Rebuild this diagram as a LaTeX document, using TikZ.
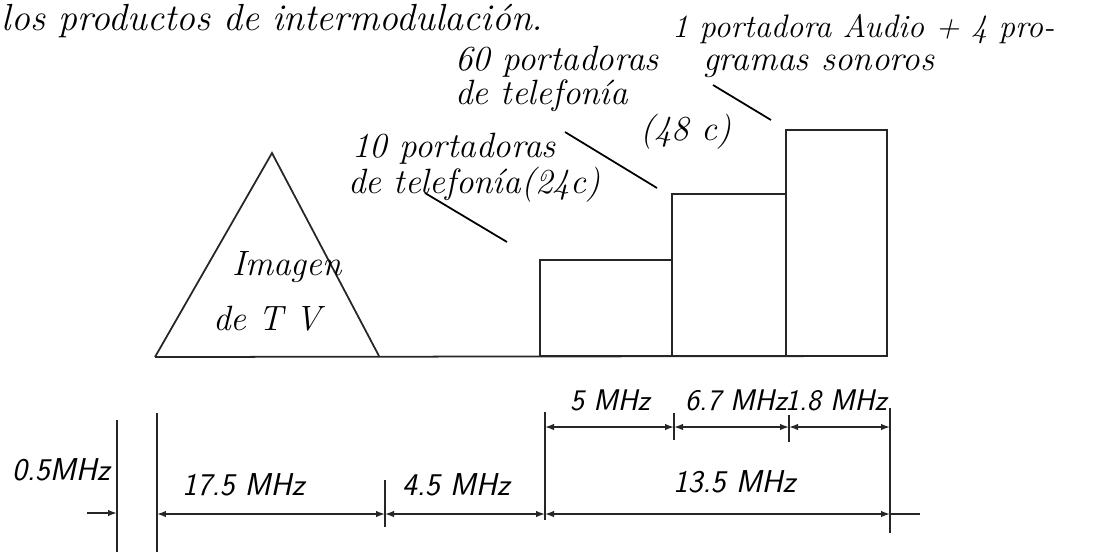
\documentclass[tikz,border=0pt]{standalone}
\usepackage{fontspec}
\usepackage{tikz}
\usetikzlibrary{arrows.meta, positioning}

\begin{document}
\begin{tikzpicture}[
  x=0.02cm, y=-0.02cm,
  every node/.style={inner sep=0pt, outer sep=0pt},
  hand/.style={
    anchor=base west,
    font=\fontsize{20}{23}\selectfont\itshape\addfontfeatures{LetterSpace=6}},
  hands/.style={
    anchor=base west,
    font=\fontsize{18.5}{21}\selectfont\itshape\addfontfeatures{LetterSpace=6}},
  title/.style={
    anchor=base west,
    font=\fontsize{21.5}{24}\selectfont\itshape\addfontfeatures{LetterSpace=4}},
  mhz/.style={
    anchor=base west,
    font=\fontsize{18}{21}\selectfont\sffamily\slshape\addfontfeatures{LetterSpace=8}},
  mhzs/.style={
    anchor=base west,
    font=\fontsize{17}{20}\selectfont\sffamily\slshape\addfontfeatures{LetterSpace=2}},
  bar/.style={
    rectangle, draw=black!85, line width=1pt, anchor=south west},
  ln/.style={draw=black!85, line width=1pt},
  lead/.style={draw=black, line width=1pt},
  dim/.style={
    {Latex[length=1.8mm,width=1.3mm]}-{Latex[length=1.8mm,width=1.3mm]},
    draw=black!85, line width=0.8pt},
  tick/.style={draw=black!85, line width=0.9pt},
]
\useasboundingbox (0,0) rectangle (1113,552);

% heading
\node[title] (head) at (2,30) {los productos de intermodulación.};

% spectrum
\coordinate (apex) at (272,153);
\coordinate (tl)   at (155,357);
\coordinate (tr)   at (379,356);
\draw[ln] (tl) -- (apex) -- (tr);
\draw[ln] (tl) -- (887,356);

\node[bar, minimum width=2.64cm, minimum height=1.92cm] (bar1) at (540,356) {};
\node[bar, minimum width=2.28cm, minimum height=3.24cm] (bar2) at (672,356) {};
\node[bar, minimum width=2.02cm, minimum height=4.52cm] (bar3) at (786,356) {};

\node[hand] (img1) at (232,275) {Imagen};
\node[hand] (img2) at (213,330) {de T V};

\node[hand] (tel10a) at (352,157) {10 portadoras};
\node[hand] (tel10b) at (348,193) {de telefonía(24c)};
\node[hand] (tel60a) at (455,70)  {60 portadoras};
\node[hand] (tel60b) at (455,104) {de telefonía};
\node[hand] (tel60c) at (640,140) {(48 c)};
\node[hands] (audA)  at (672,37)  {1 portadora Audio + 4 pro-};
\node[hand] (audB)   at (703,70)  {gramas sonoros};

% leaders
\coordinate (l10s) at (425,193);  \coordinate (l10e) at (507,242);
\coordinate (l60s) at (565,132);  \coordinate (l60e) at (657,188);
\coordinate (lAus) at (713,85);   \coordinate (lAue) at (771,120);
\draw[lead] (l10s) -- (l10e);
\draw[lead] (l60s) -- (l60e);
\draw[lead] (lAus) -- (lAue);

% dimension lines
\coordinate (d0) at (157,514);
\coordinate (d1) at (385,514);
\coordinate (d2) at (545,514);
\coordinate (d3) at (890,514);
\coordinate (dend) at (920,514);
\coordinate (u0) at (545,427);
\coordinate (u1) at (674,427);
\coordinate (u2) at (789,427);
\coordinate (u3) at (890,427);
\coordinate (h0) at (87,513);
\coordinate (h1) at (117,513);

\draw[ln] (117,420) -- (117,552);
\draw[ln] (157,413) -- (157,552);
\draw[ln] (545,412) -- (545,520);
\draw[ln] (890,408) -- (890,533);
\draw[tick] (385,480) -- (385,527);
\draw[tick] (674,413) -- (674,440);
\draw[tick] (789,415) -- (789,442);

\draw[tick, -{Latex[length=1.8mm,width=1.3mm]}] (h0) -- (h1);
\draw[dim] (d0) -- (d1);
\draw[dim] (d1) -- (d2);
\draw[dim] (d2) -- (d3);
\draw[tick] (d3) -- (dend);
\draw[dim] (u0) -- (u1);
\draw[dim] (u1) -- (u2);
\draw[dim] (u2) -- (u3);

\node[mhz] (m05)  at (12,480)  {0.5MHz};
\node[mhz] (m175) at (182,495) {17.5 MHz};
\node[mhz] (m45)  at (402,495) {4.5 MHz};
\node[mhz] (m135) at (673,492) {13.5 MHz};
\node[mhzs] (m5)  at (570,410) {5 MHz};
\node[mhzs] (m67) at (685,410) {6.7 MHz};
\node[mhzs] (m18) at (785,410) {1.8 MHz};
\end{tikzpicture}
\end{document}
